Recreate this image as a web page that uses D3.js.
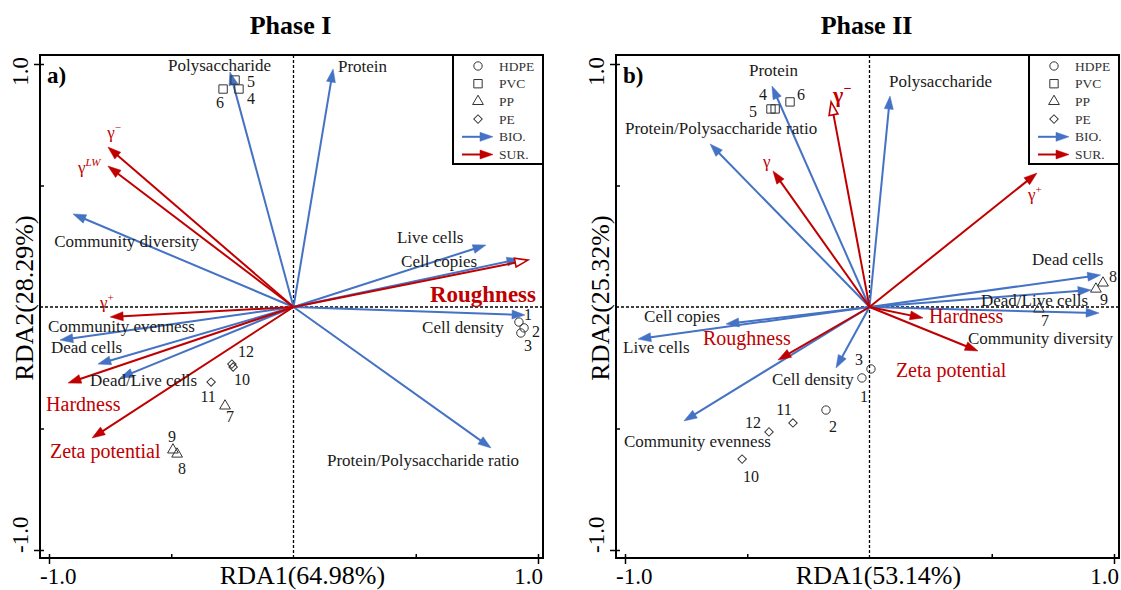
<!DOCTYPE html>
<html>
<head>
<meta charset="utf-8">
<script src="https://cdn.jsdelivr.net/npm/d3@7"></script>
<style>
body { margin: 0; background: #fff; }
svg { display: block; }
text { font-family: "Liberation Serif", "Times New Roman", serif; }
</style>
</head>
<body>
<svg id="chart" width="1121" height="590"></svg>
<script>
// ---- data ----
var materials = ["HDPE", "PVC", "PP", "PE"];
var sampleIds = [1, 2, 3, 4, 5, 6, 7, 8, 9, 10, 11, 12];
var sampleMat = ["HDPE", "HDPE", "HDPE", "PVC", "PVC", "PVC", "PP", "PP", "PP", "PE", "PE", "PE"];

// Phase I
var bioNamesA = ["Polysaccharide", "Protein", "Community diversity", "Live cells", "Cell copies", "Cell density",
  "Protein/Polysaccharide ratio", "Community evenness", "Dead cells", "Dead/Live cells"];
var bioA1 = [-0.26, 0.162, -0.902, 0.787, 0.926, 0.947, 0.808, -0.955, -0.80, -0.71];
var bioA2 = [0.967, 0.979, 0.383, 0.255, 0.198, -0.033, -0.58, -0.136, -0.235, -0.292];
var surNamesA = ["γ|-", "γ|LW", "γ|+", "Hardness", "Zeta potential", "Roughness"];
var surA1 = [-0.759, -0.759, -0.75, -0.922, -0.824, 0.959];
var surA2 = [0.658, 0.58, -0.041, -0.313, -0.539, 0.193];
var siteA1 = [0.922, 0.943, 0.93, -0.223, -0.239, -0.288, -0.28, -0.476, -0.493, -0.247, -0.337, -0.252];
var siteA2 = [-0.062, -0.086, -0.107, 0.897, 0.934, 0.897, -0.407, -0.605, -0.588, -0.247, -0.309, -0.235];

// Phase II
var bioNamesB = ["Protein", "Protein/Polysaccharide ratio", "Polysaccharide", "Dead cells", "Dead/Live cells",
  "Community diversity", "Cell copies", "Live cells", "Cell density", "Community evenness"];
var bioB1 = [-0.399, -0.652, 0.084, 0.945, 0.906, 0.939, -0.587, -0.947, -0.137, -0.759];
var bioB2 = [0.909, 0.671, 0.868, 0.132, 0.07, -0.025, -0.07, -0.132, -0.251, -0.469];
var surNamesB = ["γ|-", "γ", "γ|+", "Hardness", "Zeta potential", "Roughness"];
var surB1 = [-0.157, -0.395, 0.685, 0.219, 0.444, -0.374];
var surB2 = [0.844, 0.56, 0.551, -0.045, -0.181, -0.218];
var siteB1 = [-0.031, -0.178, 0.006, -0.386, -0.403, -0.325, 0.693, 0.955, 0.926, -0.521, -0.313, -0.411];
var siteB2 = [-0.292, -0.424, -0.255, 0.815, 0.815, 0.844, -0.008, 0.099, 0.074, -0.626, -0.477, -0.514];

var axisTicks = [-1, -0.5, 0, 0.5, 1];

// ---- label placement (data units) and styling ----
var bioLabA = [[-0.513, 0.971], [0.182, 0.967], [-0.979, 0.247], [0.423, 0.263], [0.44, 0.165], [0.526, -0.107],
  [0.137, -0.654], [-1.004, -0.103], [-0.992, -0.189], [-0.832, -0.325]];
var surLabA = [[-0.762, 0.695], [-0.881, 0.551], [-0.791, -0.004], [-1.012, -0.428], [-0.996, -0.621], [0.558, 0.021]];
var bioLabB = [[-0.493, 0.951], [-1.0, 0.712], [0.08, 0.905], [0.665, 0.173], [0.456, 0.004], [0.403, -0.152],
  [-0.922, -0.062], [-1.008, -0.189], [-0.399, -0.321], [-1.004, -0.576]];
var surLabB = [[-0.149, 0.844], [-0.436, 0.576], [0.648, 0.44], [0.243, -0.066], [0.108, -0.288], [-0.681, -0.156]];
// number label offsets (px from point)
var numOffA = [[9, -2], [12, 9], [7, 18], [12, 15], [16, 7], [-3, 19], [5, 16], [5, 20], [-1, -8], [9, 18], [-3, 20], [14, -7]];
var numOffB = [[2, 24], [7, 22], [-12, -4], [-12, -9], [-18, 8], [11, -2], [6, 17], [10, -1], [8, 16], [9, 23], [-9, -8], [-16, -4]];
var surStyleA = [[17, "normal"], [17, "normal"], [17, "normal"], [20, "normal"], [20, "normal"], [23, "bold"]];
var surStyleB = [[22, "bold"], [17, "normal"], [17, "normal"], [20, "normal"], [20, "normal"], [20, "normal"]];

var BLUE = "#4472c4", RED = "#c00000";
var svg = d3.select("#chart");

function arrowHead(g, x1, y1, x2, y2, color, open) {
  var a = Math.atan2(y2 - y1, x2 - x1), len = 13, w = 4.5;
  var bx = x2 - len * Math.cos(a), by = y2 - len * Math.sin(a);
  g.append("line").attr("x1", x1).attr("y1", y1)
    .attr("x2", open ? bx : x2 - 4 * Math.cos(a)).attr("y2", open ? by : y2 - 4 * Math.sin(a))
    .attr("stroke", color).attr("stroke-width", 2);
  g.append("path")
    .attr("d", "M" + x2 + "," + y2 +
      "L" + (bx + w * Math.sin(a)) + "," + (by - w * Math.cos(a)) +
      "L" + (bx - w * Math.sin(a)) + "," + (by + w * Math.cos(a)) + "Z")
    .attr("fill", open ? "#fff" : color).attr("stroke", color)
    .attr("stroke-width", open ? 1.6 : 0.5);
}

function symbol(g, mat, cx, cy) {
  var s = g.append("path").attr("fill", "none").attr("stroke", "#333").attr("stroke-width", 1);
  var rot = 0;
  if (mat === "HDPE") s.attr("d", d3.symbol(d3.symbolCircle, 55)());
  else if (mat === "PVC") s.attr("d", d3.symbol(d3.symbolSquare, 70)());
  else if (mat === "PP") s.attr("d", d3.symbol(d3.symbolTriangle, 50)());
  else { s.attr("d", d3.symbol(d3.symbolSquare, 36)()); rot = 45; }
  s.attr("transform", "translate(" + cx + "," + cy + ") rotate(" + rot + ")");
}

function panel(cfg) {
  var L = cfg.left, T = 55, R = cfg.left + 503, B = 558;
  var x = d3.scaleLinear().domain([-1, 1]).range([L + 9, R - 5]);
  var y = d3.scaleLinear().domain([-1, 1]).range([550, 64]);
  var g = svg.append("g");

  // title
  g.append("text").attr("x", x(0) - 3).attr("y", 34).attr("text-anchor", "middle")
    .attr("font-size", 26).attr("font-weight", "bold").text(cfg.title);

  // dashed zero lines
  g.append("line").attr("x1", L).attr("x2", R).attr("y1", y(0)).attr("y2", y(0))
    .attr("stroke", "#000").attr("stroke-width", 1.3).attr("stroke-dasharray", "3,2");
  g.append("line").attr("x1", x(0)).attr("x2", x(0)).attr("y1", T).attr("y2", B)
    .attr("stroke", "#000").attr("stroke-width", 1.3).attr("stroke-dasharray", "3,2");

  // ticks
  var tv = axisTicks.filter(function(v) { return v !== 0; });
  var gx = g.append("g").attr("transform", "translate(0," + B + ")")
    .call(d3.axisBottom(x).tickValues(tv).tickSize(-4).tickFormat(""));
  var gx2 = g.append("g").attr("transform", "translate(0," + B + ")")
    .call(d3.axisBottom(x).tickValues([-1, 1]).tickSize(6).tickFormat(""));
  var gy = g.append("g").attr("transform", "translate(" + L + ",0)")
    .call(d3.axisLeft(y).tickValues(tv).tickSize(-4).tickFormat(""));
  var gy2 = g.append("g").attr("transform", "translate(" + L + ",0)")
    .call(d3.axisLeft(y).tickValues([-1, 1]).tickSize(6).tickFormat(""));
  [gx, gx2, gy, gy2].forEach(function(a) {
    a.select(".domain").remove();
    a.selectAll("line").attr("stroke", "#000").attr("stroke-width", 1.5);
  });

  // tick labels
  g.append("text").attr("x", L).attr("y", 584).attr("font-size", 23).text("-1.0");
  g.append("text").attr("x", R).attr("y", 584).attr("text-anchor", "end").attr("font-size", 23).text("1.0");
  g.append("text").attr("transform", "translate(" + (L - 12) + ",553) rotate(-90)")
    .attr("font-size", 23).text("-1.0");
  g.append("text").attr("transform", "translate(" + (L - 12) + ",57) rotate(-90)")
    .attr("text-anchor", "end").attr("font-size", 23).text("1.0");
  // axis titles
  g.append("text").attr("x", x(0) + 9).attr("y", 584).attr("text-anchor", "middle")
    .attr("font-size", 26).text(cfg.xTitle);
  g.append("text").attr("transform", "translate(" + (L - 7) + "," + (y(0) - 9) + ") rotate(-90)")
    .attr("text-anchor", "middle").attr("font-size", 26).text(cfg.yTitle);

  // bio arrows
  cfg.bio1.forEach(function(v, i) {
    arrowHead(g, x(0), y(0), x(v), y(cfg.bio2[i]), BLUE, false);
  });
  // surface arrows
  cfg.sur1.forEach(function(v, i) {
    arrowHead(g, x(0), y(0), x(v), y(cfg.sur2[i]), RED, i === cfg.openIdx);
  });

  // bio labels
  cfg.bioNames.forEach(function(n, i) {
    g.append("text").attr("x", x(cfg.bioLab[i][0])).attr("y", y(cfg.bioLab[i][1]))
      .attr("font-size", 17).attr("fill", "#1a1a1a").text(n);
  });
  // surface labels
  cfg.surNames.forEach(function(n, i) {
    var st = cfg.surStyle[i];
    var t = g.append("text").attr("x", x(cfg.surLab[i][0])).attr("y", y(cfg.surLab[i][1]))
      .attr("font-size", st[0]).attr("font-weight", st[1]).attr("fill", RED);
    var parts = n.split("|");
    t.append("tspan").text(parts[0]);
    if (parts.length > 1) {
      t.append("tspan").attr("dy", -st[0] * 0.42).attr("font-size", st[0] * 0.65)
        .attr("font-style", parts[1] === "LW" ? "italic" : "normal")
        .text(parts[1] === "-" ? "\u2212" : parts[1]);
    }
  });

  // samples
  sampleIds.forEach(function(id, i) {
    var cx = x(cfg.site1[i]), cy = y(cfg.site2[i]);
    symbol(g, sampleMat[i], cx, cy);
    g.append("text").attr("x", cx + cfg.numOff[i][0]).attr("y", cy + cfg.numOff[i][1])
      .attr("text-anchor", "middle").attr("font-size", 16).attr("fill", "#1a1a1a").text(id);
  });

  // panel letter
  g.append("text").attr("x", L + 7).attr("y", 83).attr("font-size", 23).attr("font-weight", "bold").text(cfg.letter);

  // legend
  var lx = R - 90, lg = g.append("g");
  lg.append("rect").attr("x", lx).attr("y", T).attr("width", 90).attr("height", 109)
    .attr("fill", "#fff").attr("stroke", "#000").attr("stroke-width", 2);
  var items = materials.concat(["BIO.", "SUR."]);
  items.forEach(function(it, i) {
    var ry = T + 11 + i * 17.7;
    if (i < 4) symbol(lg, it, lx + 25, ry);
    else arrowHead(lg, lx + 9, ry, lx + 40, ry, i === 4 ? BLUE : RED, false);
    lg.append("text").attr("x", lx + 46).attr("y", ry + 4.5).attr("font-size", 13.5)
      .attr("fill", "#333").text(it);
  });

  // frame
  g.append("rect").attr("x", L).attr("y", T).attr("width", R - L).attr("height", B - T)
    .attr("fill", "none").attr("stroke", "#000").attr("stroke-width", 2);
}

panel({
  left: 40, title: "Phase I", letter: "a)", xTitle: "RDA1(64.98%)", yTitle: "RDA2(28.29%)",
  bioNames: bioNamesA, bio1: bioA1, bio2: bioA2, bioLab: bioLabA,
  surNames: surNamesA, sur1: surA1, sur2: surA2, surLab: surLabA, surStyle: surStyleA, openIdx: 5,
  site1: siteA1, site2: siteA2, numOff: numOffA
});
panel({
  left: 616, title: "Phase II", letter: "b)", xTitle: "RDA1(53.14%)", yTitle: "RDA2(25.32%)",
  bioNames: bioNamesB, bio1: bioB1, bio2: bioB2, bioLab: bioLabB,
  surNames: surNamesB, sur1: surB1, sur2: surB2, surLab: surLabB, surStyle: surStyleB, openIdx: 0,
  site1: siteB1, site2: siteB2, numOff: numOffB
});
</script>
</body>
</html>
